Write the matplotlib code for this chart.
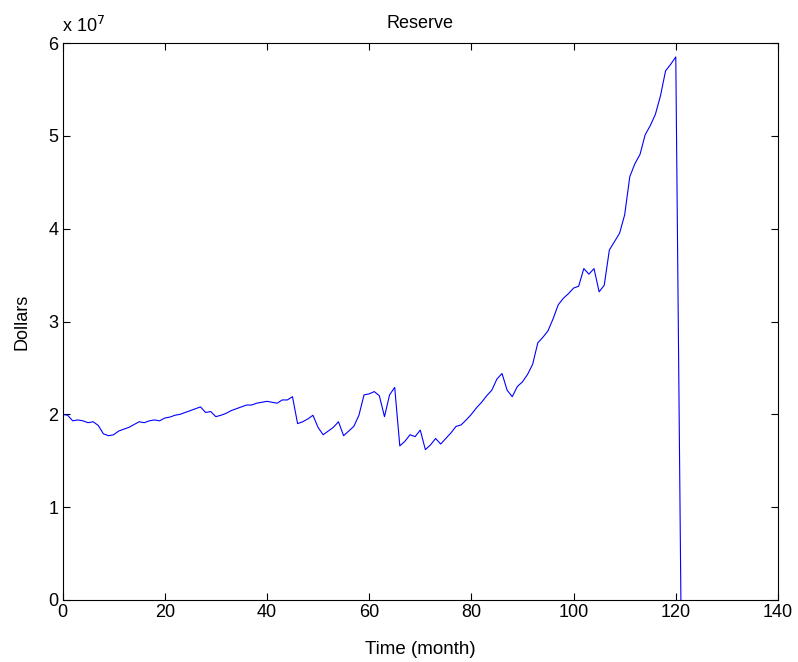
import matplotlib
matplotlib.use("Agg")
import matplotlib.pyplot as plt
from matplotlib.ticker import FuncFormatter

months = list(range(0, 122))
reserve_1e7 = [
    2.00, 1.99, 1.93, 1.94, 1.93, 1.91, 1.92, 1.88, 1.79, 1.77,
    1.78, 1.82, 1.84, 1.86, 1.89, 1.92, 1.91, 1.93, 1.94, 1.93,
    1.96, 1.97, 1.99, 2.00, 2.02, 2.04, 2.06, 2.08, 2.02, 2.03,
    1.975, 1.99, 2.01, 2.04, 2.06, 2.08, 2.10, 2.10, 2.12, 2.13,
    2.14, 2.13, 2.12, 2.155, 2.155, 2.19, 1.90, 1.92, 1.95, 1.99,
    1.86, 1.78, 1.82, 1.86, 1.92, 1.77, 1.82, 1.87, 1.99, 2.21,
    2.22, 2.245, 2.20, 1.975, 2.21, 2.29, 1.66, 1.71, 1.78, 1.76,
    1.83, 1.62, 1.67, 1.74, 1.68, 1.74, 1.80, 1.87, 1.886, 1.94,
    2.00, 2.07, 2.13, 2.20, 2.26, 2.38, 2.44, 2.26, 2.19, 2.30,
    2.35, 2.43, 2.54, 2.77, 2.83, 2.90, 3.03, 3.18, 3.25, 3.30,
    3.36, 3.38, 3.57, 3.51, 3.57, 3.32, 3.39, 3.77, 3.86, 3.95,
    4.15, 4.56, 4.70, 4.80, 5.01, 5.11, 5.23, 5.43, 5.70, 5.77,
    5.85, 0.0,
]
reserve = [v * 1e7 for v in reserve_1e7]

title = "Reserve"
xlabel = "Time (month)"
ylabel = "Dollars"
xticks = [0, 20, 40, 60, 80, 100, 120, 140]
yticks = [0, 1e7, 2e7, 3e7, 4e7, 5e7, 6e7]

plt.rcParams['font.family'] = ['Liberation Sans', 'DejaVu Sans']
fs = 13

fig = plt.figure(figsize=(7.98, 6.62), dpi=100)
ax = fig.add_axes([62.5 / 798, 62 / 662, (778 - 62.5) / 798, (600 - 43) / 662])
ax.plot(months, reserve, color=(0, 0, 1), lw=0.8)
ax.set_xlim(0, 140)
ax.set_ylim(0, 6e7)
ax.set_xticks(xticks)
ax.set_yticks(yticks)
ax.yaxis.set_major_formatter(FuncFormatter(lambda v, p: f"{v/1e7:g}"))
ax.tick_params(direction='in', length=5, width=0.8, top=True, right=True,
               labelsize=fs, pad=3)
for s in ax.spines.values():
    s.set_linewidth(0.8)
ax.set_title(title, fontsize=fs, pad=11)
ax.set_xlabel(xlabel, fontsize=13.5, labelpad=14)
ax.set_ylabel(ylabel, fontsize=fs, labelpad=13)
ax.text(0.0, 1.012, r"x 10$^{7}$", transform=ax.transAxes, fontsize=fs,
        ha='left', va='bottom')

fig.savefig("out.png", dpi=100)
